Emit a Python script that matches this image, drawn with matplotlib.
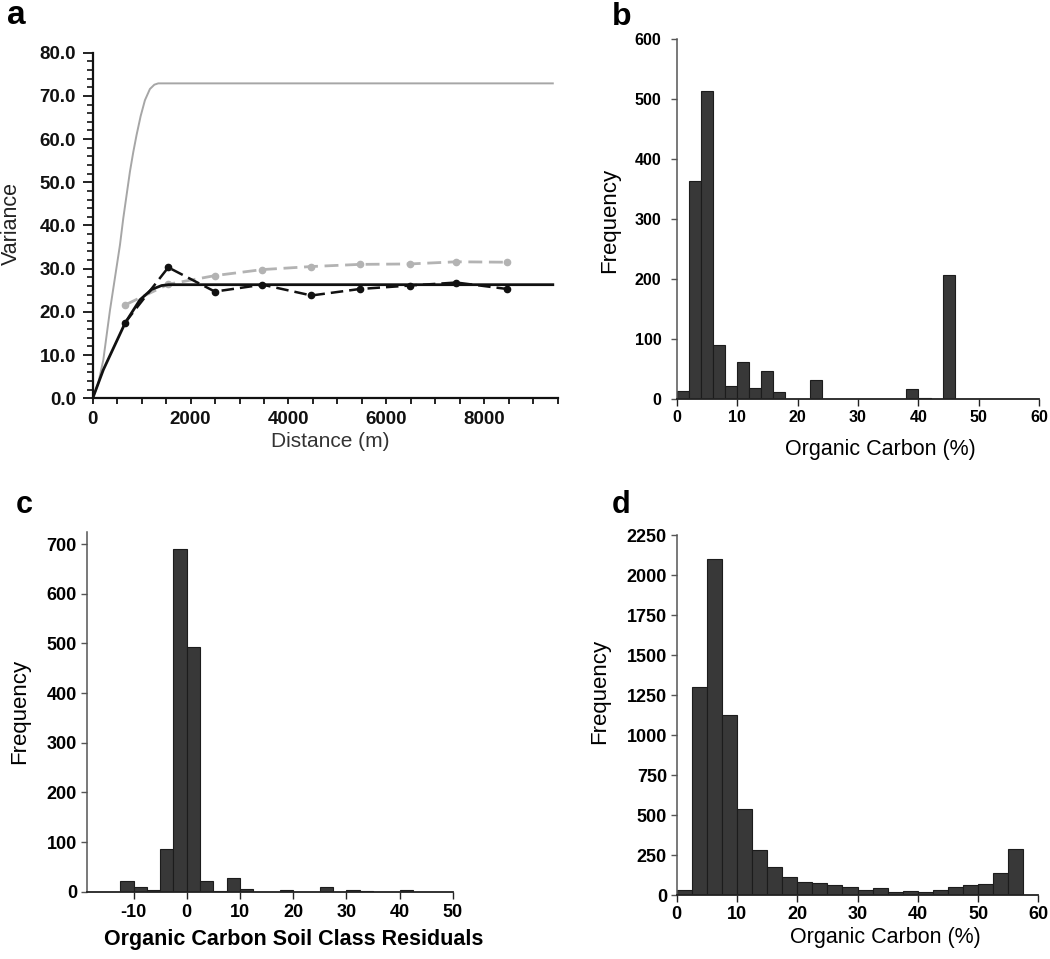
import numpy as np
import matplotlib
matplotlib.use("Agg")
import matplotlib.pyplot as plt
from matplotlib.ticker import MultipleLocator

plt.rcParams['font.family'] = ['Liberation Sans', 'DejaVu Sans']
plt.rcParams['axes.unicode_minus'] = False

# ---------------- data ----------------
# (a) variograms
model_black_dist = [0, 217, 661, 965, 1204, 1408, 1550, 9400]
model_black_var = [0, 6.6, 17.4, 22.8, 25.2, 26.1, 26.3, 26.3]
model_gray_dist = [0, 114, 217, 353, 476, 557, 625, 693, 761, 829, 897, 979,
                   1067, 1169, 1260, 1339, 9400]
model_gray_var = [0, 3.5, 8.9, 20.4, 29.5, 35.5, 41.7, 47.1, 52.5, 57.0, 61.0,
                  65.3, 69.0, 71.6, 72.6, 72.9, 72.9]
lags = [660, 1544, 2496, 3469, 4469, 5455, 6476, 7429, 8469]
emp_black = [17.5, 30.3, 24.7, 26.3, 23.8, 25.3, 26.1, 26.8, 25.3]
emp_gray = [21.6, 26.4, 28.4, 29.8, 30.5, 31.0, 31.1, 31.6, 31.5]

# (b) histogram of organic carbon, bins of 2 %
b_bin_start, b_bin_width = 0, 2
b_counts = [13, 364, 514, 90, 22, 61, 19, 47, 11, 0, 0, 32, 0, 0, 0,
            0, 0, 0, 0, 16, 2, 0, 207, 0, 0, 0, 0, 0, 0, 0]

# (c) histogram of residuals, bins of 2.5
c_bin_start, c_bin_width = -12.5, 2.5
c_counts = [22, 9, 3, 87, 691, 492, 22, 1, 27, 5, 0, 0, 3, 0, 0, 9,
            0, 3, 2, 0, 0, 3]

# (d) histogram of organic carbon, bins of 2.5 %
d_bin_start, d_bin_width = 0, 2.5
d_counts = [31, 1299, 2098, 1126, 537, 283, 178, 112, 84, 74, 67, 54,
            32, 43, 20, 25, 18, 34, 51, 64, 73, 137, 289]

# ---------------- figure ----------------
W, H = 1050, 959
fig = plt.figure(figsize=(W / 100, H / 100), dpi=100)


def px_axes(l, r, b, t):
    return fig.add_axes([l / W, 1 - b / H, (r - l) / W, (b - t) / H])


BAR_FC = '#383838'
BAR_EC = '#1c1c1c'
SPINE = '#555555'

# ----- panel a -----
ax = px_axes(92.7, 557.7, 398.3, 52.7)
ax.plot(model_gray_dist, model_gray_var, color='#a6a6a6', lw=1.4, zorder=2)
ax.plot(lags, emp_gray, color='#b3b3b3', lw=2.0, ls=(0, (5, 2.4)),
        marker='o', ms=4.5, mfc='#b3b3b3', mec='#b3b3b3', zorder=3)
ax.plot(model_black_dist, model_black_var, color='#111111', lw=2.0, zorder=4)
ax.plot(lags, emp_black, color='#111111', lw=1.8, ls=(0, (5, 2.4)),
        marker='o', ms=4.5, mfc='#111111', mec='#111111', zorder=5)
ax.set_xlim(0, 9500)
ax.set_ylim(0, 80)
ax.xaxis.set_major_locator(MultipleLocator(2000))
ax.xaxis.set_minor_locator(MultipleLocator(500))
ax.yaxis.set_major_locator(MultipleLocator(10))
ax.yaxis.set_minor_locator(MultipleLocator(2))
ax.set_yticks(np.arange(0, 81, 10))
ax.set_yticklabels([f'{v:.1f}' for v in np.arange(0, 81, 10)])
for s in ('top', 'right'):
    ax.spines[s].set_visible(False)
for s in ('left', 'bottom'):
    ax.spines[s].set_linewidth(1.6)
    ax.spines[s].set_color('#111111')
ax.tick_params(axis='y', which='major', length=7, width=1.3, pad=5,
               labelsize=13.5, colors='#111111')
ax.tick_params(axis='y', which='minor', length=4.5, width=1.1)
ax.tick_params(axis='x', which='both', length=4, width=1.3, pad=5,
               labelsize=13.5, colors='#111111')
for lab in ax.get_xticklabels() + ax.get_yticklabels():
    lab.set_fontweight('bold')
ax.set_ylabel('Variance', fontsize=15.5, color='#222222')
ax.yaxis.set_label_coords(-0.152, 0.507)
ax.set_xlabel('Distance (m)', fontsize=15, color='#333333')
ax.xaxis.set_label_coords(0.510, -0.098)


def hist_panel(ax, start, width, counts, xlim, ylim, xstep, ystep,
               tick_fs, xlabel, xlabel_bold, xlab_xy, ylab_xy, ypad, xpad):
    edges = start + width * np.arange(len(counts))
    ax.bar(edges, counts, width=width, align='edge', color=BAR_FC,
           edgecolor=BAR_EC, linewidth=0.8, zorder=2)
    ax.set_xlim(*xlim)
    ax.set_ylim(*ylim)
    ax.xaxis.set_major_locator(MultipleLocator(xstep))
    ax.yaxis.set_major_locator(MultipleLocator(ystep))
    for s in ('top', 'right'):
        ax.spines[s].set_visible(False)
    ax.spines['left'].set_color(SPINE)
    ax.spines['left'].set_linewidth(1.1)
    ax.spines['bottom'].set_color('#222222')
    ax.spines['bottom'].set_linewidth(1.3)
    ax.tick_params(axis='y', length=4, width=1.0, color=SPINE, pad=ypad,
                   labelsize=tick_fs)
    ax.tick_params(axis='x', length=5, width=1.0, color='#222222', pad=xpad,
                   labelsize=tick_fs)
    for lab in ax.get_xticklabels() + ax.get_yticklabels():
        lab.set_fontweight('bold')
    ax.set_ylabel('Frequency', fontsize=16)
    ax.yaxis.set_label_coords(*ylab_xy)
    ax.set_xlabel(xlabel, fontsize=15.5,
                  fontweight='bold' if xlabel_bold else 'normal')
    ax.xaxis.set_label_coords(*xlab_xy)


# ----- panel b -----
axb = px_axes(676.7, 1039.3, 399, 39)
hist_panel(axb, b_bin_start, b_bin_width, b_counts, (0, 60), (0, 600), 10, 100,
           11.5, 'Organic Carbon (%)', False, (0.563, -0.112), (-0.156, 0.497),
           7, 3)

# ----- panel c -----
axc = px_axes(86.7, 452.7, 891.7, 531.7)
hist_panel(axc, c_bin_start, c_bin_width, c_counts, (-18.8, 50), (0, 725), 10, 100,
           13, 'Organic Carbon Soil Class Residuals', True, (0.565, -0.104),
           (-0.155, 0.5), 3, 4)

# ----- panel d -----
axd = px_axes(676.7, 1038.3, 895.3, 535)
hist_panel(axd, d_bin_start, d_bin_width, d_counts, (0, 60), (0, 2250), 10, 250,
           13, 'Organic Carbon (%)', False, (0.576, -0.088), (-0.184, 0.565),
           3, 3)

# panel letters
for x, y, t, fs in [(7, 24, 'a', 24), (612, 25, 'b', 23),
                    (16, 513, 'c', 22), (612, 513, 'd', 22)]:
    fig.text(x / W, 1 - y / H, t, fontsize=fs, fontweight='bold',
             ha='left', va='baseline')

fig.savefig('out.png', dpi=100)
